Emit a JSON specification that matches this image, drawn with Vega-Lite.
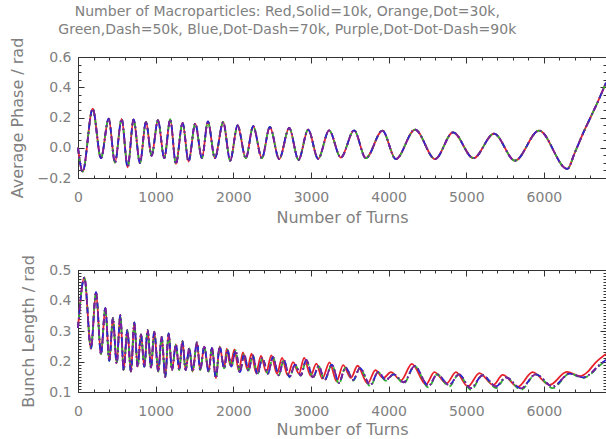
{
  "$schema": "https://vega.github.io/schema/vega-lite/v6.json",
  "background": "white",
  "padding": {"left": 8, "top": 4, "right": 0, "bottom": 0},
  "spacing": 28,
  "title": {
    "text": ["Number of Macroparticles: Red,Solid=10k, Orange,Dot=30k,", "Green,Dash=50k, Blue,Dot-Dash=70k, Purple,Dot-Dot-Dash=90k"],
    "font": "DejaVu Sans", "fontSize": 14, "fontWeight": "normal", "color": "#808080",
    "lineHeight": 18, "anchor": "middle", "offset": 0, "dx": -22
  },
  "config": {
    "view": {"stroke": "#333333", "strokeWidth": 1},
    "axis": {"grid": false, "domain": false, "tickColor": "#333333", "tickWidth": 1, "labelFont": "DejaVu Sans", "labelFontSize": 14, "labelColor": "#808080", "titleFont": "DejaVu Sans", "titleFontSize": 16, "titleFontWeight": "normal", "titleColor": "#808080", "labelFlush": false, "labelOverlap": false}
  },
  "datasets": {
    "phase": [
      {"t": 0, "v": 0.0}, {"t": 60, "v": -0.158}, {"t": 189, "v": 0.258}, {"t": 296, "v": -0.069},
      {"t": 395, "v": 0.193}, {"t": 476, "v": -0.098}, {"t": 562, "v": 0.191}, {"t": 640, "v": -0.129},
      {"t": 716, "v": 0.187}, {"t": 798, "v": -0.102}, {"t": 875, "v": 0.171}, {"t": 948, "v": -0.053},
      {"t": 1030, "v": 0.182}, {"t": 1111, "v": -0.069}, {"t": 1188, "v": 0.187}, {"t": 1261, "v": -0.107},
      {"t": 1347, "v": 0.165}, {"t": 1424, "v": -0.091}, {"t": 1510, "v": 0.16}, {"t": 1596, "v": -0.069},
      {"t": 1673, "v": 0.175}, {"t": 1763, "v": -0.069}, {"t": 1870, "v": 0.169}, {"t": 1960, "v": -0.085},
      {"t": 2055, "v": 0.147}, {"t": 2162, "v": -0.069}, {"t": 2256, "v": 0.142}, {"t": 2368, "v": -0.069},
      {"t": 2471, "v": 0.138}, {"t": 2591, "v": -0.075}, {"t": 2720, "v": 0.131}, {"t": 2840, "v": -0.08},
      {"t": 2964, "v": 0.12}, {"t": 3093, "v": -0.073}, {"t": 3234, "v": 0.115}, {"t": 3385, "v": -0.065},
      {"t": 3556, "v": 0.115}, {"t": 3707, "v": -0.069}, {"t": 3921, "v": 0.113}, {"t": 4093, "v": -0.075},
      {"t": 4341, "v": 0.12}, {"t": 4599, "v": -0.075}, {"t": 4830, "v": 0.102}, {"t": 5093, "v": -0.069},
      {"t": 5358, "v": 0.093}, {"t": 5628, "v": -0.085}, {"t": 5937, "v": 0.113}, {"t": 6302, "v": -0.14},
      {"t": 6400, "v": -0.03}, {"t": 6500, "v": 0.09}, {"t": 6600, "v": 0.2}, {"t": 6700, "v": 0.31},
      {"t": 6800, "v": 0.43}
    ],
    "blred": [
      {"t": 0, "v": 0.31}, {"t": 82, "v": 0.475}, {"t": 167, "v": 0.243}, {"t": 232, "v": 0.427},
      {"t": 296, "v": 0.224}, {"t": 352, "v": 0.376}, {"t": 403, "v": 0.202}, {"t": 450, "v": 0.342},
      {"t": 498, "v": 0.194}, {"t": 545, "v": 0.352}, {"t": 588, "v": 0.172}, {"t": 635, "v": 0.303},
      {"t": 682, "v": 0.167}, {"t": 725, "v": 0.328}, {"t": 768, "v": 0.183}, {"t": 811, "v": 0.289},
      {"t": 854, "v": 0.183}, {"t": 897, "v": 0.303}, {"t": 940, "v": 0.18}, {"t": 982, "v": 0.298},
      {"t": 1034, "v": 0.167}, {"t": 1077, "v": 0.281}, {"t": 1124, "v": 0.15}, {"t": 1167, "v": 0.292},
      {"t": 1210, "v": 0.172}, {"t": 1261, "v": 0.256}, {"t": 1304, "v": 0.172}, {"t": 1345, "v": 0.267},
      {"t": 1386, "v": 0.172}, {"t": 1433, "v": 0.243}, {"t": 1476, "v": 0.167}, {"t": 1532, "v": 0.263},
      {"t": 1574, "v": 0.172}, {"t": 1626, "v": 0.249}, {"t": 1682, "v": 0.167}, {"t": 1725, "v": 0.245},
      {"t": 1776, "v": 0.145}, {"t": 1824, "v": 0.249}, {"t": 1883, "v": 0.178}, {"t": 1915, "v": 0.242},
      {"t": 1962, "v": 0.187}, {"t": 2015, "v": 0.24}, {"t": 2070, "v": 0.17}, {"t": 2125, "v": 0.23},
      {"t": 2180, "v": 0.175}, {"t": 2235, "v": 0.226}, {"t": 2293, "v": 0.163}, {"t": 2357, "v": 0.218},
      {"t": 2425, "v": 0.165}, {"t": 2490, "v": 0.22}, {"t": 2563, "v": 0.16}, {"t": 2628, "v": 0.212},
      {"t": 2700, "v": 0.155}, {"t": 2770, "v": 0.198}, {"t": 2845, "v": 0.16}, {"t": 2913, "v": 0.212},
      {"t": 2995, "v": 0.153}, {"t": 3070, "v": 0.193}, {"t": 3145, "v": 0.144}, {"t": 3240, "v": 0.197},
      {"t": 3330, "v": 0.135}, {"t": 3415, "v": 0.188}, {"t": 3515, "v": 0.146}, {"t": 3600, "v": 0.186},
      {"t": 3730, "v": 0.128}, {"t": 3830, "v": 0.172}, {"t": 3930, "v": 0.146}, {"t": 4030, "v": 0.165},
      {"t": 4160, "v": 0.138}, {"t": 4300, "v": 0.192}, {"t": 4480, "v": 0.125}, {"t": 4590, "v": 0.165},
      {"t": 4745, "v": 0.128}, {"t": 4868, "v": 0.165}, {"t": 5022, "v": 0.118}, {"t": 5170, "v": 0.162},
      {"t": 5348, "v": 0.123}, {"t": 5470, "v": 0.156}, {"t": 5665, "v": 0.117}, {"t": 5855, "v": 0.165},
      {"t": 6075, "v": 0.123}, {"t": 6295, "v": 0.166}, {"t": 6470, "v": 0.152}, {"t": 6560, "v": 0.165},
      {"t": 6660, "v": 0.195}, {"t": 6800, "v": 0.225}
    ],
    "bl": [
      {"t": 0, "b": 0.31, "g": 0.31}, {"t": 82, "b": 0.475, "g": 0.475}, {"t": 167, "b": 0.243, "g": 0.243},
      {"t": 232, "b": 0.427, "g": 0.427}, {"t": 296, "b": 0.224, "g": 0.224}, {"t": 352, "b": 0.376, "g": 0.376},
      {"t": 403, "b": 0.202, "g": 0.202}, {"t": 450, "b": 0.342, "g": 0.342}, {"t": 498, "b": 0.194, "g": 0.194},
      {"t": 545, "b": 0.352, "g": 0.352}, {"t": 588, "b": 0.172, "g": 0.172}, {"t": 635, "b": 0.303, "g": 0.303},
      {"t": 682, "b": 0.167, "g": 0.167}, {"t": 725, "b": 0.328, "g": 0.328}, {"t": 768, "b": 0.183, "g": 0.183},
      {"t": 811, "b": 0.289, "g": 0.289}, {"t": 854, "b": 0.183, "g": 0.183}, {"t": 897, "b": 0.303, "g": 0.303},
      {"t": 940, "b": 0.18, "g": 0.18}, {"t": 982, "b": 0.298, "g": 0.298}, {"t": 1034, "b": 0.167, "g": 0.167},
      {"t": 1077, "b": 0.281, "g": 0.281}, {"t": 1124, "b": 0.15, "g": 0.15}, {"t": 1167, "b": 0.292, "g": 0.292},
      {"t": 1210, "b": 0.172, "g": 0.172}, {"t": 1261, "b": 0.256, "g": 0.256}, {"t": 1304, "b": 0.172, "g": 0.172},
      {"t": 1345, "b": 0.267, "g": 0.267}, {"t": 1386, "b": 0.172, "g": 0.172}, {"t": 1433, "b": 0.243, "g": 0.243},
      {"t": 1476, "b": 0.167, "g": 0.167}, {"t": 1532, "b": 0.263, "g": 0.263}, {"t": 1574, "b": 0.172, "g": 0.172},
      {"t": 1626, "b": 0.249, "g": 0.249}, {"t": 1682, "b": 0.167, "g": 0.167}, {"t": 1725, "b": 0.245, "g": 0.245},
      {"t": 1776, "b": 0.145, "g": 0.145}, {"t": 1824, "b": 0.249, "g": 0.249}, {"t": 1883, "b": 0.178, "g": 0.178},
      {"t": 1926, "b": 0.238, "g": 0.238}, {"t": 1975, "b": 0.183, "g": 0.183}, {"t": 2030, "b": 0.236, "g": 0.236},
      {"t": 2085, "b": 0.165, "g": 0.165}, {"t": 2140, "b": 0.224, "g": 0.224}, {"t": 2195, "b": 0.17, "g": 0.17},
      {"t": 2250, "b": 0.221, "g": 0.221}, {"t": 2310, "b": 0.158, "g": 0.158}, {"t": 2375, "b": 0.212, "g": 0.212},
      {"t": 2445, "b": 0.16, "g": 0.16}, {"t": 2510, "b": 0.214, "g": 0.214}, {"t": 2585, "b": 0.155, "g": 0.155},
      {"t": 2650, "b": 0.205, "g": 0.205}, {"t": 2725, "b": 0.15, "g": 0.148}, {"t": 2795, "b": 0.19, "g": 0.19},
      {"t": 2870, "b": 0.155, "g": 0.153}, {"t": 2940, "b": 0.205, "g": 0.205}, {"t": 3025, "b": 0.148, "g": 0.146},
      {"t": 3100, "b": 0.185, "g": 0.185}, {"t": 3175, "b": 0.139, "g": 0.137}, {"t": 3270, "b": 0.19, "g": 0.19},
      {"t": 3360, "b": 0.13, "g": 0.127}, {"t": 3445, "b": 0.18, "g": 0.18}, {"t": 3545, "b": 0.14, "g": 0.137},
      {"t": 3630, "b": 0.178, "g": 0.178}, {"t": 3765, "b": 0.123, "g": 0.119}, {"t": 3865, "b": 0.165, "g": 0.165},
      {"t": 3965, "b": 0.14, "g": 0.137}, {"t": 4065, "b": 0.158, "g": 0.158}, {"t": 4195, "b": 0.132, "g": 0.128},
      {"t": 4335, "b": 0.185, "g": 0.185}, {"t": 4515, "b": 0.12, "g": 0.115}, {"t": 4625, "b": 0.158, "g": 0.158},
      {"t": 4780, "b": 0.123, "g": 0.118}, {"t": 4905, "b": 0.158, "g": 0.158}, {"t": 5060, "b": 0.112, "g": 0.107},
      {"t": 5210, "b": 0.155, "g": 0.155}, {"t": 5385, "b": 0.118, "g": 0.113}, {"t": 5510, "b": 0.148, "g": 0.148},
      {"t": 5705, "b": 0.112, "g": 0.107}, {"t": 5895, "b": 0.158, "g": 0.158}, {"t": 6115, "b": 0.118, "g": 0.113},
      {"t": 6330, "b": 0.16, "g": 0.16}, {"t": 6510, "b": 0.148, "g": 0.146}, {"t": 6600, "b": 0.16, "g": 0.158},
      {"t": 6700, "b": 0.185, "g": 0.183}, {"t": 6800, "b": 0.205, "g": 0.203}
    ]
  },
  "vconcat": [
    {
      "width": 528, "height": 121,
      "resolve": {"axis": {"x": "independent", "y": "independent"}},
      "layer": [
        {
          "data": {"name": "phase"},
          "mark": {"type": "line", "color": "#e8202a", "strokeWidth": 1.8, "interpolate": "monotone"},
          "encoding": {
            "x": {"field": "t", "type": "quantitative", "scale": {"domain": [0, 6800], "nice": false, "zero": false},
                  "axis": {"orient": "bottom", "values": [0, 1000, 2000, 3000, 4000, 5000, 6000], "format": "d", "ticks": false, "labelPadding": 12, "title": "Number of Turns", "titlePadding": 5}},
            "y": {"field": "v", "type": "quantitative", "scale": {"domain": [-0.2, 0.6], "nice": false, "zero": false},
                  "axis": {"orient": "left", "values": [-0.2, 0, 0.2, 0.4, 0.6], "format": ".1f", "ticks": false, "labelPadding": 7, "title": "Average Phase / rad", "titlePadding": 12}}
          }
        },
        {
          "data": {"name": "phase"},
          "mark": {"type": "line", "color": "#f5a030", "strokeWidth": 1.8, "strokeDash": [1.5, 3], "interpolate": "monotone"},
          "encoding": {
            "x": {"field": "t", "type": "quantitative", "scale": {"domain": [0, 6800], "nice": false, "zero": false},
                  "axis": {"orient": "bottom", "values": [0, 1000, 2000, 3000, 4000, 5000, 6000], "labels": false, "tickSize": 6, "offset": -6, "title": null}},
            "y": {"field": "v", "type": "quantitative", "scale": {"domain": [-0.2, 0.6], "nice": false, "zero": false},
                  "axis": {"orient": "left", "values": [-0.2, 0, 0.2, 0.4, 0.6], "labels": false, "tickSize": 6, "offset": -6, "title": null}}
          }
        },
        {
          "data": {"name": "phase"},
          "mark": {"type": "line", "color": "#2fb030", "strokeWidth": 1.8, "strokeDash": [6, 4], "interpolate": "monotone"},
          "encoding": {
            "x": {"field": "t", "type": "quantitative", "scale": {"domain": [0, 6800], "nice": false, "zero": false},
                  "axis": {"orient": "bottom", "values": [0, 200, 400, 600, 800, 1000, 1200, 1400, 1600, 1800, 2000, 2200, 2400, 2600, 2800, 3000, 3200, 3400, 3600, 3800, 4000, 4200, 4400, 4600, 4800, 5000, 5200, 5400, 5600, 5800, 6000, 6200, 6400, 6600], "labels": false, "tickSize": 3, "offset": -3, "title": null}},
            "y": {"field": "v", "type": "quantitative", "scale": {"domain": [-0.2, 0.6], "nice": false, "zero": false},
                  "axis": {"orient": "left", "values": [-0.2, -0.15, -0.1, -0.05, 0, 0.05, 0.1, 0.15, 0.2, 0.25, 0.3, 0.35, 0.4, 0.45, 0.5, 0.55, 0.6], "labels": false, "tickSize": 3, "offset": -3, "title": null}}
          }
        },
        {
          "data": {"name": "phase"},
          "mark": {"type": "line", "color": "#2424d8", "strokeWidth": 1.8, "strokeDash": [6, 3, 1.5, 3], "interpolate": "monotone"},
          "encoding": {
            "x": {"field": "t", "type": "quantitative", "scale": {"domain": [0, 6800], "nice": false, "zero": false},
                  "axis": {"orient": "top", "values": [0, 1000, 2000, 3000, 4000, 5000, 6000], "labels": false, "tickSize": 6, "offset": -6, "title": null}},
            "y": {"field": "v", "type": "quantitative", "scale": {"domain": [-0.2, 0.6], "nice": false, "zero": false},
                  "axis": {"orient": "right", "values": [-0.2, 0, 0.2, 0.4, 0.6], "labels": false, "tickSize": 6, "offset": -6, "title": null}}
          }
        },
        {
          "data": {"name": "phase"},
          "mark": {"type": "line", "color": "#7a1f9e", "strokeWidth": 1.8, "strokeDash": [6, 3, 1.5, 3, 1.5, 3], "interpolate": "monotone"},
          "encoding": {
            "x": {"field": "t", "type": "quantitative", "scale": {"domain": [0, 6800], "nice": false, "zero": false},
                  "axis": {"orient": "top", "values": [0, 200, 400, 600, 800, 1000, 1200, 1400, 1600, 1800, 2000, 2200, 2400, 2600, 2800, 3000, 3200, 3400, 3600, 3800, 4000, 4200, 4400, 4600, 4800, 5000, 5200, 5400, 5600, 5800, 6000, 6200, 6400, 6600], "labels": false, "tickSize": 3, "offset": -3, "title": null}},
            "y": {"field": "v", "type": "quantitative", "scale": {"domain": [-0.2, 0.6], "nice": false, "zero": false},
                  "axis": {"orient": "right", "values": [-0.2, -0.15, -0.1, -0.05, 0, 0.05, 0.1, 0.15, 0.2, 0.25, 0.3, 0.35, 0.4, 0.45, 0.5, 0.55, 0.6], "labels": false, "tickSize": 3, "offset": -3, "title": null}}
          }
        }
      ]
    },
    {
      "width": 528, "height": 122,
      "resolve": {"axis": {"x": "independent", "y": "independent"}},
      "layer": [
        {
          "data": {"name": "blred"},
          "mark": {"type": "line", "color": "#e8202a", "strokeWidth": 1.8, "interpolate": "monotone"},
          "encoding": {
            "x": {"field": "t", "type": "quantitative", "scale": {"domain": [0, 6800], "nice": false, "zero": false},
                  "axis": {"orient": "bottom", "values": [0, 1000, 2000, 3000, 4000, 5000, 6000], "format": "d", "ticks": false, "labelPadding": 12, "title": "Number of Turns", "titlePadding": 3}},
            "y": {"field": "v", "type": "quantitative", "scale": {"domain": [0.1, 0.5], "nice": false, "zero": false},
                  "axis": {"orient": "left", "values": [0.1, 0.2, 0.3, 0.4, 0.5], "format": ".1f", "ticks": false, "labelPadding": 7, "title": "Bunch Length / rad", "titlePadding": 12}}
          }
        },
        {
          "data": {"name": "bl"},
          "mark": {"type": "line", "color": "#f5a030", "strokeWidth": 1.8, "strokeDash": [1.5, 3], "interpolate": "monotone"},
          "encoding": {
            "x": {"field": "t", "type": "quantitative", "scale": {"domain": [0, 6800], "nice": false, "zero": false},
                  "axis": {"orient": "bottom", "values": [0, 1000, 2000, 3000, 4000, 5000, 6000], "labels": false, "tickSize": 6, "offset": -6, "title": null}},
            "y": {"field": "b", "type": "quantitative", "scale": {"domain": [0.1, 0.5], "nice": false, "zero": false},
                  "axis": {"orient": "left", "values": [0.1, 0.2, 0.3, 0.4, 0.5], "labels": false, "tickSize": 6, "offset": -6, "title": null}}
          }
        },
        {
          "data": {"name": "bl"},
          "mark": {"type": "line", "color": "#2fb030", "strokeWidth": 1.8, "strokeDash": [6, 4], "interpolate": "monotone"},
          "encoding": {
            "x": {"field": "t", "type": "quantitative", "scale": {"domain": [0, 6800], "nice": false, "zero": false},
                  "axis": {"orient": "bottom", "values": [0, 200, 400, 600, 800, 1000, 1200, 1400, 1600, 1800, 2000, 2200, 2400, 2600, 2800, 3000, 3200, 3400, 3600, 3800, 4000, 4200, 4400, 4600, 4800, 5000, 5200, 5400, 5600, 5800, 6000, 6200, 6400, 6600], "labels": false, "tickSize": 3, "offset": -3, "title": null}},
            "y": {"field": "g", "type": "quantitative", "scale": {"domain": [0.1, 0.5], "nice": false, "zero": false},
                  "axis": {"orient": "left", "values": [0.1, 0.11, 0.12, 0.13, 0.14, 0.15, 0.16, 0.17, 0.18, 0.19, 0.2, 0.21, 0.22, 0.23, 0.24, 0.25, 0.26, 0.27, 0.28, 0.29, 0.3, 0.31, 0.32, 0.33, 0.34, 0.35, 0.36, 0.37, 0.38, 0.39, 0.4, 0.41, 0.42, 0.43, 0.44, 0.45, 0.46, 0.47, 0.48, 0.49, 0.5], "labels": false, "tickSize": 3, "offset": -3, "title": null}}
          }
        },
        {
          "data": {"name": "bl"},
          "mark": {"type": "line", "color": "#2424d8", "strokeWidth": 1.8, "strokeDash": [6, 3, 1.5, 3], "interpolate": "monotone"},
          "encoding": {
            "x": {"field": "t", "type": "quantitative", "scale": {"domain": [0, 6800], "nice": false, "zero": false},
                  "axis": {"orient": "top", "values": [0, 1000, 2000, 3000, 4000, 5000, 6000], "labels": false, "tickSize": 6, "offset": -6, "title": null}},
            "y": {"field": "b", "type": "quantitative", "scale": {"domain": [0.1, 0.5], "nice": false, "zero": false},
                  "axis": {"orient": "right", "values": [0.1, 0.2, 0.3, 0.4, 0.5], "labels": false, "tickSize": 6, "offset": -6, "title": null}}
          }
        },
        {
          "data": {"name": "bl"},
          "mark": {"type": "line", "color": "#7a1f9e", "strokeWidth": 1.8, "strokeDash": [6, 3, 1.5, 3, 1.5, 3], "interpolate": "monotone"},
          "encoding": {
            "x": {"field": "t", "type": "quantitative", "scale": {"domain": [0, 6800], "nice": false, "zero": false},
                  "axis": {"orient": "top", "values": [0, 200, 400, 600, 800, 1000, 1200, 1400, 1600, 1800, 2000, 2200, 2400, 2600, 2800, 3000, 3200, 3400, 3600, 3800, 4000, 4200, 4400, 4600, 4800, 5000, 5200, 5400, 5600, 5800, 6000, 6200, 6400, 6600], "labels": false, "tickSize": 3, "offset": -3, "title": null}},
            "y": {"field": "b", "type": "quantitative", "scale": {"domain": [0.1, 0.5], "nice": false, "zero": false},
                  "axis": {"orient": "right", "values": [0.1, 0.11, 0.12, 0.13, 0.14, 0.15, 0.16, 0.17, 0.18, 0.19, 0.2, 0.21, 0.22, 0.23, 0.24, 0.25, 0.26, 0.27, 0.28, 0.29, 0.3, 0.31, 0.32, 0.33, 0.34, 0.35, 0.36, 0.37, 0.38, 0.39, 0.4, 0.41, 0.42, 0.43, 0.44, 0.45, 0.46, 0.47, 0.48, 0.49, 0.5], "labels": false, "tickSize": 3, "offset": -3, "title": null}}
          }
        }
      ]
    }
  ]
}
